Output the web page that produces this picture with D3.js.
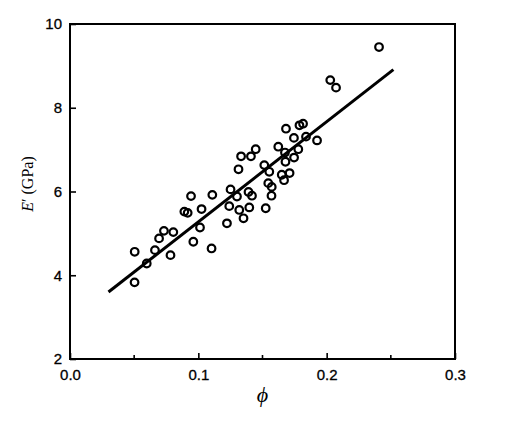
<!DOCTYPE html>
<html>
<head>
<meta charset="utf-8">
<script src="https://cdn.jsdelivr.net/npm/d3@7"></script>
<style>
  body { margin: 0; background: #fff; }
  svg { display: block; }
</style>
</head>
<body>
<svg id="chart"></svg>
<script>
// volume fraction phi vs storage modulus E' (GPa)
const phiValues = [0.0504, 0.0503, 0.0598, 0.0662, 0.0694, 0.0732, 0.0805, 0.0783, 0.0961, 0.1013,
  0.1103, 0.1223, 0.1352, 0.0891, 0.0917, 0.1025, 0.0943, 0.1109, 0.1251, 0.1301,
  0.1391, 0.1418, 0.1241, 0.1319, 0.1397, 0.1525, 0.1570, 0.1572, 0.1545, 0.1514,
  0.1553, 0.1313, 0.1333, 0.1410, 0.1447, 0.1623, 0.1668, 0.1711, 0.1679, 0.1675,
  0.1746, 0.1779, 0.1745, 0.1788, 0.1816, 0.1839, 0.1925, 0.1683, 0.2028, 0.2073,
  0.2408, 0.1650];
const modulusValues = [4.56, 3.83, 4.28, 4.60, 4.88, 5.06, 5.03, 4.48, 4.80, 5.14,
  4.64, 5.24, 5.36, 5.52, 5.49, 5.58, 5.89, 5.92, 6.05, 5.88,
  5.99, 5.90, 5.65, 5.56, 5.62, 5.60, 5.90, 6.11, 6.20, 6.63,
  6.47, 6.53, 6.84, 6.84, 7.01, 7.07, 6.27, 6.44, 6.71, 6.93,
  6.81, 7.01, 7.28, 7.58, 7.62, 7.31, 7.22, 7.50, 8.66, 8.48,
  9.45, 6.40];

// fitted line end points
const fitPhi = [0.030, 0.252];
const fitModulus = [3.60, 8.91];

const xTicks = [0, 0.1, 0.2, 0.3];
const xMinorTicks = [0.05, 0.15, 0.25];
const yTicks = [2, 4, 6, 8, 10];

const width = 522, height = 426;
const margin = { top: 24, right: 67, bottom: 67, left: 70 };
const plotW = width - margin.left - margin.right;
const plotH = height - margin.top - margin.bottom;

const svg = d3.select("#chart").attr("width", width).attr("height", height);
const g = svg.append("g").attr("transform", `translate(${margin.left},${margin.top})`);

const xScale = d3.scaleLinear().domain([0, 0.3]).range([0, plotW]);
const yScale = d3.scaleLinear().domain([2, 10]).range([plotH, 0]);

// frame
g.append("rect")
  .attr("x", 0).attr("y", 0)
  .attr("width", plotW).attr("height", plotH)
  .attr("fill", "none")
  .attr("stroke", "#000")
  .attr("stroke-width", 2);

// x axis, ticks pointing inward
const xAxis = g.append("g")
  .attr("transform", `translate(0,${plotH})`)
  .call(d3.axisBottom(xScale).tickValues(xTicks).tickFormat(d3.format(".1f"))
    .tickSizeInner(-6).tickSizeOuter(0).tickPadding(10));
xAxis.select(".domain").remove();
xAxis.selectAll(".tick line").attr("stroke-width", 1.6);

g.append("g")
  .attr("transform", `translate(0,${plotH})`)
  .selectAll("line")
  .data(xMinorTicks)
  .join("line")
  .attr("x1", (d) => xScale(d)).attr("x2", (d) => xScale(d))
  .attr("y1", 0).attr("y2", -4)
  .attr("stroke", "#000")
  .attr("stroke-width", 1.6);

// y axis
const yAxis = g.append("g")
  .call(d3.axisLeft(yScale).tickValues(yTicks)
    .tickSizeInner(-6).tickSizeOuter(0).tickPadding(8));
yAxis.select(".domain").remove();
yAxis.selectAll(".tick line").attr("stroke-width", 1.6);

svg.selectAll(".tick text")
  .attr("font-family", "Liberation Sans, Arial, sans-serif")
  .attr("font-size", 15)
  .attr("fill", "#000")
  .attr("stroke", "#000")
  .attr("stroke-width", 0.3);

// fitted line
const fitData = fitPhi.map((p, i) => ({ phi: p, e: fitModulus[i] }));
g.append("path")
  .datum(fitData)
  .attr("d", d3.line().x((d) => xScale(d.phi)).y((d) => yScale(d.e)))
  .attr("stroke", "#000")
  .attr("stroke-width", 3)
  .attr("fill", "none");

// data points
const points = phiValues.map((p, i) => ({ phi: p, e: modulusValues[i] }));
g.append("g")
  .selectAll("circle")
  .data(points)
  .join("circle")
  .attr("cx", (d) => xScale(d.phi))
  .attr("cy", (d) => yScale(d.e))
  .attr("r", 3.8)
  .attr("fill", "none")
  .attr("stroke", "#000")
  .attr("stroke-width", 2.2);

// axis titles
svg.append("text")
  .attr("x", margin.left + plotW / 2)
  .attr("y", 402)
  .attr("text-anchor", "middle")
  .attr("font-family", "Liberation Serif, Times New Roman, serif")
  .attr("font-style", "italic")
  .attr("font-size", 22)
  .attr("fill", "#000")
  .text("ϕ");

const yTitle = svg.append("text")
  .attr("transform", `translate(33,184) rotate(-90)`)
  .attr("text-anchor", "middle")
  .attr("font-family", "Liberation Serif, Times New Roman, serif")
  .attr("font-size", 16)
  .attr("fill", "#000");
yTitle.append("tspan").attr("font-style", "italic").text("E");
yTitle.append("tspan").text("′ (GPa)");
</script>
</body>
</html>
